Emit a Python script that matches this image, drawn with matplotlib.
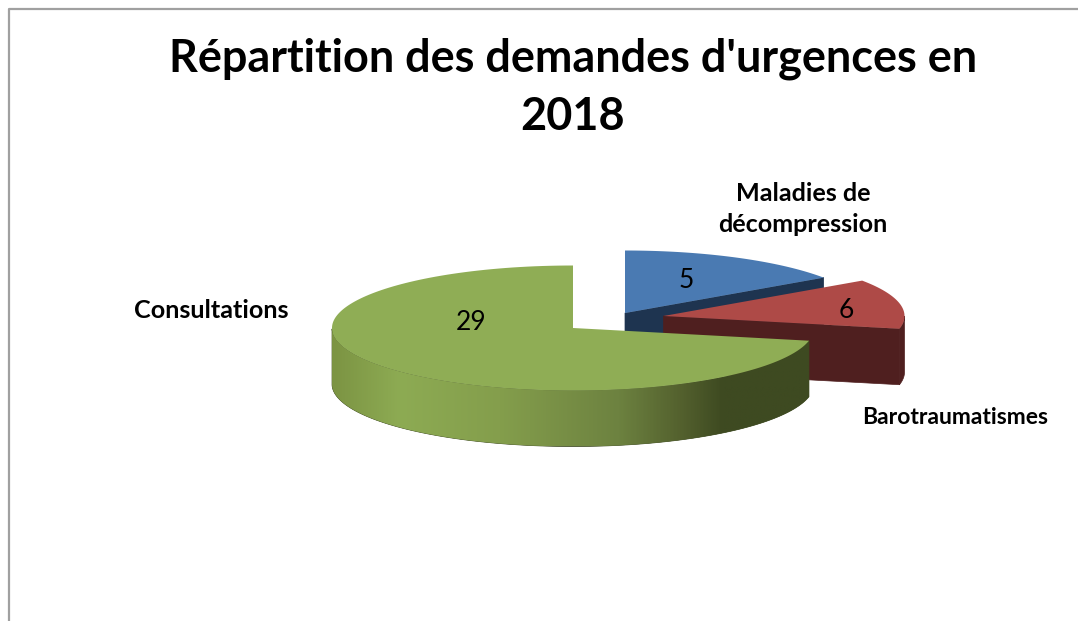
import numpy as np
import matplotlib
matplotlib.use("Agg")
import matplotlib.pyplot as plt
from matplotlib.colors import LinearSegmentedColormap
from matplotlib.patches import Polygon

# Donnees du graphique
categories = ["Maladies de\ndécompression", "Barotraumatismes", "Consultations"]
valeurs = [5, 6, 29]
titre = "Répartition des demandes d'urgences en\n2018"

# Couleurs
couleurs_dessus = ["#4a7ab2", "#ae4a47", "#8fad55"]
couleurs_cote = ["#1e3450", "#4f1f1f", "#3e4a21"]

plt.rcParams["font.family"] = ["Lato", "DejaVu Sans"]

# Geometrie de la part en fausse 3D, en pixels
RX, RY, PROF = 241, 62.5, 56
centres = [(625, 313), (663.5, 316), (573, 328)]


def vue(t):
    # deformation de l'angle due a l'inclinaison du camembert
    return np.unwrap(np.arctan2(1.25 * np.sin(t), np.cos(t) - 0.1))


def arc(cx, cy, t):
    return np.column_stack([cx + RX * np.sin(t), cy - RY * np.cos(t)])


fig = plt.figure(figsize=(10.78, 6.21), dpi=100)
ax = fig.add_axes([0, 0, 1, 1])

# Cadre gris du graphique (haut et gauche seulement dans la capture)
ax.plot([9, 9, 1078], [621, 9, 9], color="#a0a0a0", lw=1.6, zorder=1)

fractions = np.cumsum([0] + valeurs) / sum(valeurs)
z = 2
for i in range(len(valeurs)):
    cx, cy = centres[i]
    t = vue(np.radians(np.linspace(fractions[i], fractions[i + 1], 200) * 360))
    # la fin de la derniere part revient a 360 degres
    if t[-1] < t[0]:
        t = t + 2 * np.pi * (t < t[0])
    bord = arc(cx, cy, t)

    # face radiale visible (cachee pour la derniere part)
    if i < len(valeurs) - 1:
        fin = bord[-1]
        face = [(cx, cy), fin, (fin[0], fin[1] + PROF), (cx, cy + PROF)]
        ax.add_patch(Polygon(face, closed=True, fc=couleurs_cote[i], ec=couleurs_cote[i], lw=0.5, zorder=z))

    # bord avant, entre 90 et 270 degres
    avant = t[(t >= np.pi / 2) & (t <= 3 * np.pi / 2)]
    if len(avant) > 1:
        haut = arc(cx, cy, avant)
        bas = haut[::-1] + [0, PROF]
        contour = np.vstack([haut, bas])
        poly = Polygon(contour, closed=True, fc=couleurs_cote[i], ec=couleurs_cote[i], lw=0.5, zorder=z)
        ax.add_patch(poly)
        if i == 2:
            # degrade sur le cote de la grande part
            cmap = LinearSegmentedColormap.from_list(
                "vert",
                [(0, "#7c9443"), (0.14, "#8dab53"), (0.35, "#849e4c"),
                 (0.6, "#6d8240"), (0.74, "#525f2d"), (0.82, "#3e4a21"), (1, "#3e4a21")],
            )
            x0, x1 = contour[:, 0].min(), contour[:, 0].max()
            y0, y1 = contour[:, 1].min(), contour[:, 1].max()
            img = ax.imshow(np.linspace(0, 1, 400).reshape(1, -1), cmap=cmap, aspect="auto",
                            extent=[x0, x1, y1, y0], zorder=z + 0.5)
            img.set_clip_path(poly)

    # dessus de la part
    dessus = np.vstack([[(cx, cy)], bord])
    ax.add_patch(Polygon(dessus, closed=True, fc=couleurs_dessus[i], ec="none", zorder=z + 1))
    z += 2

ax.set_xlim(0, 1078)
ax.set_ylim(621, 0)
ax.axis("off")

# Titre
ax.text(573, 88, titre, ha="center", va="center", fontsize=32.4, fontweight="bold",
        linespacing=1.47, color="black", zorder=20)

# Etiquettes des categories
ax.text(803, 209, categories[0], ha="center", va="center", fontsize=18.1, fontweight="bold",
        linespacing=1.43, zorder=20)
ax.text(955, 418, categories[1], ha="center", va="center", fontsize=16.5, fontweight="bold", zorder=20)
ax.text(211, 311, categories[2], ha="center", va="center", fontsize=18.1, fontweight="bold", zorder=20)

# Valeurs
ax.text(686, 280, str(valeurs[0]), ha="center", va="center", fontsize=19, zorder=20)
ax.text(846, 310, str(valeurs[1]), ha="center", va="center", fontsize=19, zorder=20)
ax.text(471, 322, str(valeurs[2]), ha="center", va="center", fontsize=19, zorder=20)

fig.savefig("out.png", dpi=100, facecolor="white")
